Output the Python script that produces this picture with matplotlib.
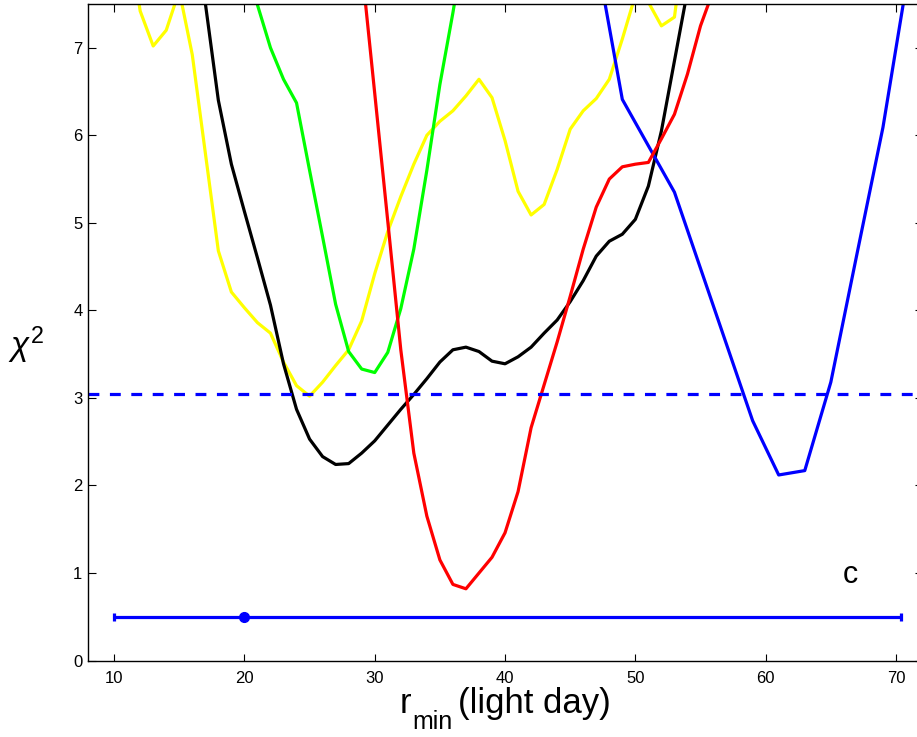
import numpy as np
import matplotlib
matplotlib.use('Agg')
import matplotlib.pyplot as plt

plt.rcParams['font.family'] = ['Liberation Sans', 'DejaVu Sans']
plt.rcParams['mathtext.fontset'] = 'custom'
plt.rcParams['mathtext.rm'] = 'Liberation Sans'
plt.rcParams['mathtext.it'] = 'Liberation Sans:italic'

# chi^2 curves (r_min in light days)
x_yellow = np.arange(11, 55)
chi_yellow = [8.4, 7.42, 7.02, 7.2, 7.65, 6.92, 5.8, 4.68, 4.21, 4.03,
              3.86, 3.74, 3.41, 3.14, 3.02, 3.18, 3.37, 3.55, 3.88, 4.42,
              4.9, 5.3, 5.67, 6.0, 6.16, 6.28, 6.45, 6.64, 6.43, 5.94,
              5.36, 5.09, 5.21, 5.61, 6.07, 6.28, 6.42, 6.64, 7.1, 7.6,
              7.52, 7.25, 7.35, 8.5]

x_green = np.arange(20, 38)
chi_green = [8.2, 7.49, 7.0, 6.64, 6.37, 5.6, 4.84, 4.07, 3.53, 3.33,
             3.29, 3.52, 4.02, 4.7, 5.6, 6.58, 7.4, 8.3]

x_black = np.arange(16, 55)
chi_black = [8.8, 7.51, 6.4, 5.67, 5.13, 4.6, 4.06, 3.39, 2.87, 2.53,
             2.33, 2.24, 2.25, 2.37, 2.51, 2.69, 2.87, 3.04, 3.22, 3.41,
             3.55, 3.58, 3.53, 3.42, 3.39, 3.47, 3.58, 3.74, 3.89, 4.1,
             4.34, 4.62, 4.79, 4.87, 5.04, 5.42, 6.05, 6.85, 7.65]

x_red = np.arange(28, 57)
chi_red = [9.4, 7.93, 6.48, 5.02, 3.55, 2.37, 1.65, 1.15, 0.87, 0.82,
           1.0, 1.18, 1.46, 1.93, 2.66, 3.15, 3.64, 4.16, 4.7, 5.18,
           5.5, 5.64, 5.67, 5.69, 5.96, 6.24, 6.7, 7.25, 7.66]

x_blue = np.arange(47, 72, 2)
chi_blue = [8.06, 6.41, 5.88, 5.35, 4.48, 3.61, 2.74, 2.12, 2.17, 3.18,
            4.64, 6.09, 7.9]

# confidence level and best r_min with its range
chi_level = 3.04
r_best = 20
r_err_low = 10
r_err_high = 50.4
r_bar_y = 0.5

fig = plt.figure(figsize=(9.17, 7.37), dpi=100)
ax = fig.add_axes([0.096, 0.1037, 0.9095, 0.8909])

lw = 2.3
ax.plot(x_yellow, chi_yellow, color='#ffff00', lw=lw)
ax.plot(x_green, chi_green, color='#00ff00', lw=lw)
ax.plot(x_black, chi_black, color='k', lw=lw)
ax.plot(x_blue, chi_blue, color='#0000ff', lw=lw)
ax.plot(x_red, chi_red, color='#ff0000', lw=lw)
ax.axhline(chi_level, color='#0000ff', lw=lw, linestyle=(0, (3.4, 3.3)))

ax.errorbar([r_best], [r_bar_y], xerr=[[r_err_low], [r_err_high]], fmt='o',
            color='#0000ff', ms=7, lw=lw, capsize=2.8, capthick=2.3)

ax.text(66.5, 0.885, 'c', fontsize=22, ha='center', va='baseline')

ax.set_xlim(8, 72)
ax.set_ylim(0, 7.5)
ax.set_xticks(np.arange(10, 71, 10))
ax.set_yticks(np.arange(0, 8, 1))

ax.tick_params(direction='in', top=True, right=True, length=5.4, width=0.8,
               labelsize=12)
ax.tick_params(axis='x', pad=7.5)
ax.tick_params(axis='y', pad=4)
for s in ax.spines.values():
    s.set_linewidth(1.0)

# x label in matlab style: big subscript sitting well below the baseline
ax.text(0.374, -0.0798, 'r', fontsize=25, transform=ax.transAxes,
        ha='left', va='baseline')
ax.text(0.3885, -0.104, 'min', fontsize=18, transform=ax.transAxes,
        ha='left', va='baseline')
ax.text(0.4436, -0.0798, '(light day)', fontsize=25, transform=ax.transAxes,
        ha='left', va='baseline')

ax.set_ylabel(r'$\chi^2$', fontsize=24, rotation=0, ha='center', va='center')
ax.yaxis.set_label_coords(-0.074, 0.48)

plt.savefig('out.png', dpi=100)
